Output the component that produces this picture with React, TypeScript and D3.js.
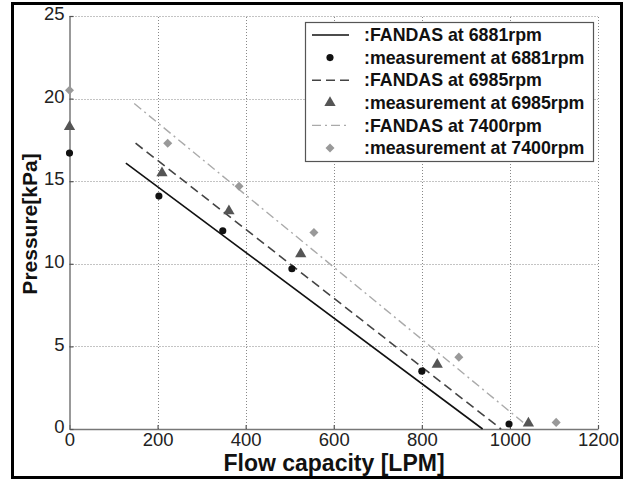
import React, { useEffect, useRef } from 'react';
import * as d3 from "d3";

// model lines (FANDAS): [flow, pressure]
const fandas6881: [number, number][] = [[128, 16.1], [938, 0]];
const fandas6985: [number, number][] = [[150, 17.3], [980, 0]];
const fandas7400: [number, number][] = [[147, 19.7], [1030, 0.4]];

// measurements
const meas6881: [number, number][] = [[0, 16.7], [203, 14.1], [348, 12.0], [505, 9.7], [800, 3.5], [998, 0.3]];
const meas6985: [number, number][] = [[0, 18.3], [210, 15.5], [362, 13.2], [525, 10.6], [835, 3.9], [1042, 0.35]];
const meas7400: [number, number][] = [[0, 20.5], [223, 17.3], [385, 14.7], [555, 11.9], [884, 4.35], [1105, 0.4]];

const xTicks = [0, 200, 400, 600, 800, 1000, 1200];
const yTicks = [0, 5, 10, 15, 20, 25];

const legendLabels = [
    ":FANDAS at 6881rpm",
    ":measurement at 6881rpm",
    ":FANDAS at 6985rpm",
    ":measurement at 6985rpm",
    ":FANDAS at 7400rpm",
    ":measurement at 7400rpm",
];

const W = 627;
const H = 481;

// diamond = square turned 45deg, wider than d3's symbolDiamond
const diamondSym = { draw(ctx: any, size: number) {
    const r = Math.sqrt(size) / 2 * 1.15;
    ctx.moveTo(0, -r); ctx.lineTo(r, 0); ctx.lineTo(0, r); ctx.lineTo(-r, 0); ctx.closePath();
} };

const App = () => {
    const svgRef = useRef<SVGSVGElement | null>(null);

    useEffect(() => {
        document.body.style.margin = "0";
        if (!svgRef.current) return;
        const svg = d3.select(svgRef.current);
        svg.selectAll("*").remove();

        const x = d3.scaleLinear().domain([0, 1200]).range([69.5, 598]);
        const y = d3.scaleLinear().domain([0, 25]).range([429, 16]);
        const font = "Liberation Sans, Arial, sans-serif";

        svg.append("rect")
            .attr("width", W).attr("height", H).attr("fill", "white");

        // outer frame
        svg.append("rect")
            .attr("x", 12.5).attr("y", 3.5)
            .attr("width", 609).attr("height", 474)
            .attr("fill", "none").attr("stroke", "#000").attr("stroke-width", 3);

        // dotted grid
        const grid = svg.append("g").attr("class", "grid");
        grid.selectAll("line.vx")
            .data(xTicks.filter(t => t > 0))
            .enter().append("line")
            .attr("class", "vx")
            .attr("x1", t => Math.round(x(t)) + 0.5).attr("x2", t => Math.round(x(t)) + 0.5)
            .attr("y1", y(0)).attr("y2", y(25))
            .style("stroke", "#888").style("stroke-width", "1px").style("stroke-dasharray", "1px 2px");
        grid.selectAll("line.hy")
            .data(yTicks.filter(t => t > 0))
            .enter().append("line")
            .attr("class", "hy")
            .attr("x1", x(0)).attr("x2", x(1200))
            .attr("y1", t => Math.round(y(t)) + 0.5).attr("y2", t => Math.round(y(t)) + 0.5)
            .style("stroke", "#888").style("stroke-width", "1px").style("stroke-dasharray", "1px 2px");

        // axes
        const xAxis = d3.axisBottom(x).tickValues(xTicks).tickFormat(d3.format("d"))
            .tickSizeInner(-4).tickSizeOuter(0).tickPadding(4);
        const gx = svg.append("g").attr("transform", `translate(0, ${y(0)})`).call(xAxis);
        const yAxis = d3.axisLeft(y).tickValues(yTicks).tickFormat(d3.format("d"))
            .tickSizeInner(-4).tickSizeOuter(0).tickPadding(5);
        const gy = svg.append("g").attr("transform", `translate(${x(0)}, 0)`).call(yAxis);
        [gx, gy].forEach(g => {
            g.select(".domain").attr("stroke", "#777").attr("stroke-width", 1.5);
            g.selectAll(".tick line").attr("stroke", "#555").attr("stroke-width", 1.2);
            g.selectAll(".tick text")
                .attr("font-family", font).attr("font-size", 18.5).attr("fill", "#222");
        });
        gy.selectAll(".tick text").attr("dy", "0.2em");

        // axis titles
        svg.append("text")
            .attr("x", 334).attr("y", 471)
            .attr("text-anchor", "middle")
            .attr("font-family", font).attr("font-weight", "bold").attr("font-size", 23)
            .attr("fill", "#111")
            .text("Flow capacity [LPM]");
        svg.append("text")
            .attr("transform", "translate(37, 224) rotate(-90)")
            .attr("text-anchor", "middle")
            .attr("font-family", font).attr("font-weight", "bold").attr("font-size", 21)
            .attr("fill", "#111")
            .text("Pressure[kPa]");

        const line = d3.line<[number, number]>()
            .x(d => x(d[0]))
            .y(d => y(d[1]));

        const lineStyles = [
            { data: fandas6881, color: "#111", dash: "", width: 1.6 },
            { data: fandas6985, color: "#444", dash: "9,5", width: 1.6 },
            { data: fandas7400, color: "#aaa", dash: "9,4,2,4", width: 1.4 },
        ];
        lineStyles.forEach(s => {
            svg.append("path")
                .datum(s.data)
                .attr("fill", "none")
                .attr("stroke", s.color)
                .attr("stroke-width", s.width)
                .attr("stroke-dasharray", s.dash || null)
                .attr("d", line);
        });

        const circle = d3.symbol().type(d3.symbolCircle).size(40);
        const tri = d3.symbol().type(d3.symbolTriangle).size(55);
        const diamond = d3.symbol().type(diamondSym as any).size(62);

        const markers = [
            { data: meas6881, sym: circle, color: "#111" },
            { data: meas6985, sym: tri, color: "#555" },
            { data: meas7400, sym: diamond, color: "#999" },
        ];
        markers.forEach(m => {
            svg.append("g").selectAll("path")
                .data(m.data)
                .enter()
                .append("path")
                .attr("transform", d => `translate(${x(d[0])}, ${y(d[1])})`)
                .attr("d", m.sym)
                .attr("fill", m.color);
        });

        // legend
        const lg = svg.append("g");
        lg.append("rect")
            .attr("x", 305.5).attr("y", 22.5)
            .attr("width", 288).attr("height", 139)
            .attr("fill", "white").attr("stroke", "#555").attr("stroke-width", 1.2);
        const rowY = (i: number) => 35 + i * 22.6;
        legendLabels.forEach((lab, i) => {
            lg.append("text")
                .attr("x", 364).attr("y", rowY(i))
                .attr("dy", "0.35em")
                .attr("font-family", font).attr("font-weight", "bold").attr("font-size", 17.8)
                .attr("fill", "#111")
                .text(lab);
        });
        [0, 2, 4].forEach((r, k) => {
            const s = lineStyles[k];
            lg.append("line")
                .attr("x1", 312).attr("x2", 349)
                .attr("y1", rowY(r)).attr("y2", rowY(r))
                .attr("stroke", s.color).attr("stroke-width", s.width)
                .attr("stroke-dasharray", s.dash || null);
        });
        [1, 3, 5].forEach((r, k) => {
            const m = markers[k];
            lg.append("path")
                .attr("transform", `translate(330, ${rowY(r)})`)
                .attr("d", m.sym)
                .attr("fill", m.color);
        });
    }, []);

    return <svg ref={svgRef} width={W} height={H} style={{ display: "block" }}></svg>;
};

export default App;
